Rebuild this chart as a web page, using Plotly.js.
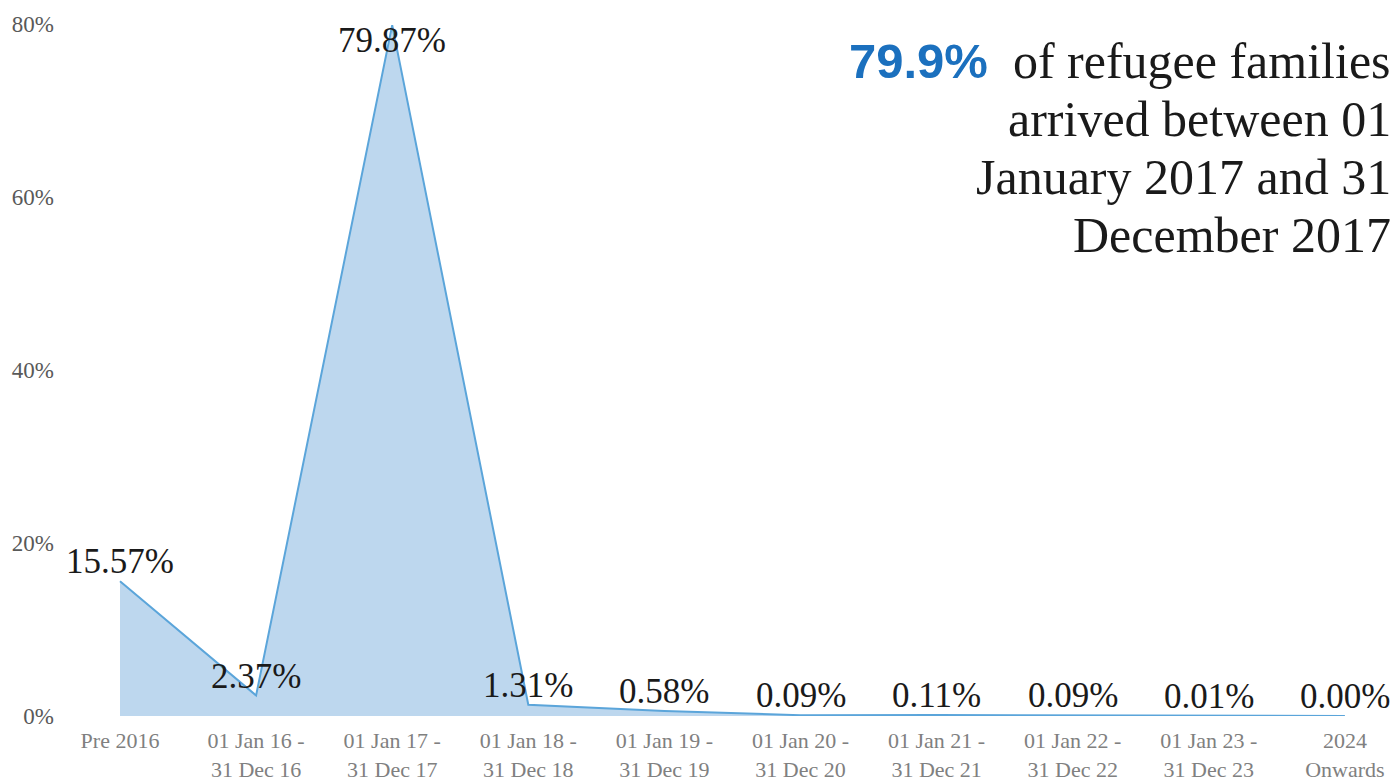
<!DOCTYPE html>
<html>
<head>
<meta charset="utf-8">
<script src="https://cdn.plot.ly/plotly-3.0.1.min.js"></script>
<style>
  html, body { margin: 0; padding: 0; background: #fff; overflow: hidden; }
  #chart { width: 1394px; height: 781px; }
</style>
</head>
<body>
<div id="chart"></div>
<script>
const categories = [
  "Pre 2016",
  "01 Jan 16 -<br>31 Dec 16",
  "01 Jan 17 -<br>31 Dec 17",
  "01 Jan 18 -<br>31 Dec 18",
  "01 Jan 19 -<br>31 Dec 19",
  "01 Jan 20 -<br>31 Dec 20",
  "01 Jan 21 -<br>31 Dec 21",
  "01 Jan 22 -<br>31 Dec 22",
  "01 Jan 23 -<br>31 Dec 23",
  "2024<br>Onwards"
];
const shares = [15.57, 2.37, 79.87, 1.31, 0.58, 0.09, 0.11, 0.09, 0.01, 0.00];
const yTickVals = [0, 20, 40, 60, 80];
const yTickText = ["0%", "20%", "40%", "60%", "80%"];
const highlightValue = "79.9%";
const highlightLines = ["of refugee families", "arrived between 01", "January 2017 and 31", "December 2017"];

const yMax = 80;
const idx = categories.map((_, i) => i);
const serif = "Liberation Serif, Times New Roman, serif";

const trace = {
  type: "scatter",
  mode: "lines",
  x: idx,
  y: shares,
  fill: "tozeroy",
  fillcolor: "#BDD7EE",
  line: { color: "#5BA5DA", width: 2 },
  cliponaxis: false,
  hoverinfo: "skip"
};

const labelFont = { family: serif, size: 35, color: "#1a1a1a" };
const dataLabels = shares.map((v, i) => {
  const nearTop = v > yMax * 0.9;
  return {
    x: i, y: v, xref: "x", yref: "y",
    text: v.toFixed(2) + "%",
    showarrow: false,
    font: labelFont,
    xanchor: "center",
    yanchor: nearTop ? "top" : "bottom",
    yshift: nearTop ? 6 : -2
  };
});

const calloutLines = highlightLines.map((line, k) => ({
  xref: "paper", yref: "paper",
  x: 0.999, y: 1.0,
  xanchor: "right", yanchor: "middle",
  align: "right",
  showarrow: false,
  text: k === 0
    ? '<span style="font-family:Liberation Sans, Arial, sans-serif;font-weight:bold;color:#1B70BE;font-size:49px">' +
      highlightValue + '</span>  ' + line
    : line,
  font: { family: serif, size: 50, color: "#1a1a1a" },
  yshift: -37 - k * 58
}));

const L = 55, R = 1394;
const firstPx = 120, stepPx = 136.1;
const layout = {
  width: 1394, height: 781,
  margin: { l: L, r: 0, t: 24, b: 65 },
  paper_bgcolor: "#fff", plot_bgcolor: "#fff",
  showlegend: false,
  xaxis: {
    type: "linear",
    range: [(L - firstPx) / stepPx, (R - firstPx) / stepPx],
    tickvals: idx, ticktext: categories,
    showgrid: false, zeroline: false, showline: false, ticks: "",
    ticklabelstandoff: 9,
    tickfont: { family: serif, size: 22, color: "#808080" }
  },
  yaxis: {
    range: [0, yMax],
    tickvals: yTickVals, ticktext: yTickText,
    showgrid: false, zeroline: false, showline: false, ticks: "",
    tickfont: { family: serif, size: 23, color: "#595959" }
  },
  annotations: dataLabels.concat(calloutLines)
};

Plotly.newPlot("chart", [trace], layout, { displayModeBar: false, staticPlot: true });
</script>
</body>
</html>
